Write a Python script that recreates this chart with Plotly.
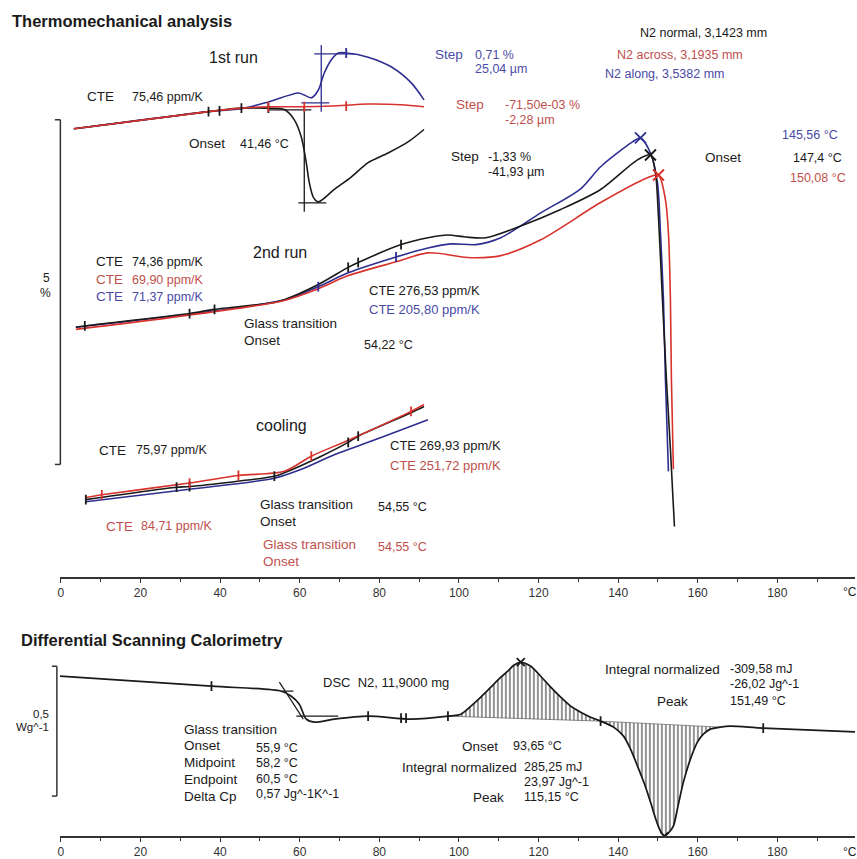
import plotly.graph_objects as go

W, H = 857, 859

# ---------------- TMA data: temperature (°C) / relative length change (%) ----------------
run1_T_normal = [3.26, 37.09, 45.36, 52.13, 56.14, 58.65, 60.40, 61.65, 62.41, 63.41, 64.66, 68.67, 72.93, 77.19, 82.21, 87.22, 91.23]
run1_L_normal = [4.87, 5.12, 5.17, 5.17, 5.15, 5.00, 4.75, 4.38, 4.09, 3.88, 3.81, 3.99, 4.17, 4.38, 4.52, 4.68, 4.86]
run1_T_across = [3.26, 37.09, 45.36, 52.13, 60.40, 67.92, 77.19, 85.46, 91.23]
run1_L_across = [4.87, 5.12, 5.17, 5.19, 5.19, 5.20, 5.23, 5.22, 5.19]
run1_T_along = [3.26, 37.09, 46.12, 52.13, 59.65, 61.15, 62.91, 64.66, 66.17, 67.92, 69.67, 71.68, 77.19, 82.96, 87.97, 91.23]
run1_L_along = [4.87, 5.12, 5.17, 5.26, 5.39, 5.36, 5.32, 5.43, 5.68, 5.87, 5.97, 5.97, 5.91, 5.77, 5.54, 5.29]

run2_T_normal = [3.76, 6.02, 32.33, 38.60, 53.63, 56.14, 64.66, 72.18, 74.69, 85.46, 92.23, 97.24, 101.75, 106.77, 115.54, 125.56, 135.59, 144.86, 148.12, 149.37, 150.13, 151.13, 152.13, 153.13, 154.14]
run2_L_normal = [1.99, 2.01, 2.19, 2.25, 2.35, 2.39, 2.61, 2.86, 2.93, 3.19, 3.29, 3.33, 3.30, 3.29, 3.46, 3.70, 3.99, 4.42, 4.49, 4.23, 3.59, 2.39, 1.23, 0.22, -0.90]
run2_T_across = [3.76, 56.14, 64.66, 72.18, 84.21, 92.23, 103.01, 110.53, 120.55, 135.59, 147.37, 150.13, 151.88, 152.63, 153.13, 153.38, 153.88]
run2_L_across = [1.96, 2.38, 2.55, 2.74, 2.94, 3.07, 3.00, 3.03, 3.26, 3.80, 4.16, 4.20, 3.84, 3.36, 2.39, 1.23, -0.07]
run2_T_along = [3.76, 56.14, 64.66, 72.18, 84.21, 92.23, 97.99, 104.26, 110.53, 120.55, 130.58, 135.59, 143.61, 145.61, 148.12, 149.87, 150.63, 151.38, 151.88, 152.63]
run2_L_along = [1.99, 2.39, 2.58, 2.78, 3.01, 3.14, 3.20, 3.19, 3.29, 3.65, 4.00, 4.32, 4.68, 4.74, 4.52, 4.09, 3.36, 2.39, 1.23, -0.10]

cool_T_normal = [6.27, 29.07, 32.33, 53.63, 56.14, 65.41, 72.18, 74.69, 87.97, 91.23]
cool_L_normal = [-0.51, -0.33, -0.32, -0.17, -0.12, 0.12, 0.32, 0.41, 0.75, 0.84]
cool_T_across = [6.27, 10.28, 32.33, 44.61, 56.14, 62.91, 72.18, 87.97, 91.23]
cool_L_across = [-0.48, -0.44, -0.27, -0.16, -0.10, 0.12, 0.35, 0.77, 0.87]
cool_T_along = [6.27, 32.33, 53.63, 60.40, 68.67, 80.45, 92.23]
cool_L_along = [-0.54, -0.36, -0.20, -0.07, 0.14, 0.39, 0.65]

# step evaluation lines (1st run)
step_along_T = [[63.66, 73.68], [65.41, 65.41], [60.40, 67.42]]
step_along_L = [[5.957, 5.957], [6.087, 5.116], [5.246, 5.246]]
step_normal_T = [[52.13, 62.91], [61.15, 61.15], [59.65, 66.67]]
step_normal_L = [[5.145, 5.145], [5.188, 3.667], [3.797, 3.797]]

# evaluation limit marks
marks_normal_T = [37.09, 39.85, 45.36, 52.13, 6.02, 32.33, 38.60, 72.18, 74.69, 85.46, 6.27, 29.07, 32.33, 53.63, 72.18, 74.69]
marks_normal_L = [5.12, 5.13, 5.17, 5.17, 2.01, 2.19, 2.25, 2.86, 2.93, 3.19, -0.51, -0.33, -0.32, -0.17, 0.32, 0.41]
marks_across_T = [52.13, 61.15, 71.68, 10.28, 32.33, 44.61, 62.91, 87.97]
marks_across_L = [5.19, 5.19, 5.20, -0.44, -0.27, -0.16, 0.12, 0.77]
marks_along_T = [71.68, 64.66, 84.21]
marks_along_L = [5.97, 2.58, 3.01]

# onset crosses (2nd run)
onset_T = [145.61, 148.12, 150.13]
onset_L = [4.74, 4.49, 4.20]

# scale bar: 5 %
tma_scale = [0, 5]

# ---------------- DSC data: temperature (°C) / heat flow (W/g) ----------------
dsc_T = [-0.25, 37.84, 55.39, 57.89, 59.90, 61.65, 63.66, 68.67, 77.19, 87.97, 97.24, 100.50, 103.01, 105.51, 108.02,
         110.53, 112.28, 113.78, 115.54, 118.05, 120.55, 123.06, 125.56, 128.07, 130.58, 133.08, 135.59, 138.85, 141.35,
         143.11, 144.86, 146.62, 148.12, 149.62, 150.63, 151.63, 152.63, 153.88, 155.14, 156.39, 158.15, 159.90, 161.40,
         163.16, 165.66, 168.17, 176.44, 199.5]
dsc_HF = [0.4615, 0.4231, 0.4038, 0.3846, 0.3538, 0.2962, 0.2846, 0.2962, 0.3077, 0.2962, 0.3077, 0.3154, 0.3462, 0.3808, 0.4192,
          0.4577, 0.4808, 0.5038, 0.5154, 0.5000, 0.4615, 0.4192, 0.3808, 0.3462, 0.3231, 0.3038, 0.2885, 0.2654, 0.2308,
          0.1808, 0.1154, 0.0462, -0.0231, -0.0962, -0.1350, -0.1538, -0.1423, -0.1154, -0.0308, 0.0538, 0.1423, 0.2077, 0.2385,
          0.2577, 0.2654, 0.2692, 0.2615, 0.2475]
exo_base_T = [97.24, 135.59]
exo_base_HF = [0.3077, 0.2885]
endo_base_T = [135.59, 165.66]
endo_base_HF = [0.2885, 0.2654]
dsc_tg_lines_T = [[54.89, 60.90], [55.39, 58.40], [59.15, 69.67]]
dsc_tg_lines_HF = [[0.4385, 0.2962], [0.4038, 0.4038], [0.3077, 0.3077]]
dsc_marks_T = [37.84, 77.19, 85.46, 86.72, 97.24, 135.59, 176.44]
dsc_marks_HF = [0.4231, 0.3077, 0.300, 0.300, 0.3077, 0.2885, 0.2615]
dsc_peaks_T = [115.54, 151.63]
dsc_peaks_HF = [0.5154, -0.1538]
dsc_scale = [0, 0.5]

ticks = [0, 20, 40, 60, 80, 100, 120, 140, 160, 180]

# ---------------- styles ----------------
K = "#1a1a1a"
RC = "#d8322c"
BC = "#2e2e90"
RT = "#c0504d"
BT = "#4a4aa6"
FONT = "Arial, Liberation Sans, sans-serif"

fig = go.Figure()


def curve(x, y, color, width=1.6, xa="x", ya="y", shape="spline"):
    fig.add_trace(go.Scatter(x=x, y=y, mode="lines", xaxis=xa, yaxis=ya,
                             line=dict(color=color, width=width, shape=shape, smoothing=0.8),
                             hoverinfo="skip", showlegend=False))


def marks(x, y, color, symbol="line-ns", size=7, xa="x", ya="y"):
    fig.add_trace(go.Scatter(x=x, y=y, mode="markers", xaxis=xa, yaxis=ya,
                             marker=dict(symbol=symbol, size=size, color=color,
                                         line=dict(color=color, width=1.8)),
                             hoverinfo="skip", showlegend=False))


# TMA curves
for T, L, c in [(run1_T_along, run1_L_along, BC), (run1_T_normal, run1_L_normal, K), (run1_T_across, run1_L_across, RC),
                (run2_T_along, run2_L_along, BC), (run2_T_normal, run2_L_normal, K), (run2_T_across, run2_L_across, RC),
                (cool_T_along, cool_L_along, BC), (cool_T_normal, cool_L_normal, K), (cool_T_across, cool_L_across, RC)]:
    curve(T, L, c)

for T, L in zip(step_along_T, step_along_L):
    curve(T, L, BC, width=1.3, shape="linear")
for T, L in zip(step_normal_T, step_normal_L):
    curve(T, L, K, width=1.3, shape="linear")

marks(marks_normal_T, marks_normal_L, K)
marks(marks_across_T, marks_across_L, RC)
marks(marks_along_T, marks_along_L, BC)
for T, L, c in zip(onset_T, onset_L, [BC, K, RC]):
    marks([T], [L], c, symbol="x-thin", size=11)

# DSC hatched integrals
exo_T = [t for t in dsc_T if exo_base_T[0] <= t <= exo_base_T[1]]
exo_H = [h for t, h in zip(dsc_T, dsc_HF) if exo_base_T[0] <= t <= exo_base_T[1]]
endo_T = [t for t in dsc_T if endo_base_T[0] <= t <= endo_base_T[1]]
endo_H = [h for t, h in zip(dsc_T, dsc_HF) if endo_base_T[0] <= t <= endo_base_T[1]]
for xs, ys, bx, by in [(exo_T, exo_H, exo_base_T, exo_base_HF), (endo_T, endo_H, endo_base_T, endo_base_HF)]:
    fig.add_trace(go.Scatter(x=xs + bx[::-1], y=ys + by[::-1], mode="lines", fill="toself",
                             xaxis="x2", yaxis="y2", line=dict(width=0.6, color="#444"),
                             fillcolor="rgba(0,0,0,0)",
                             fillpattern=dict(shape="|", fgcolor="#111", bgcolor="white", size=4, solidity=0.45),
                             hoverinfo="skip", showlegend=False))

curve(dsc_T, dsc_HF, K, width=1.7, xa="x2", ya="y2")
for T, Hf in zip(dsc_tg_lines_T, dsc_tg_lines_HF):
    curve(T, Hf, K, width=1.2, xa="x2", ya="y2", shape="linear")
marks(dsc_marks_T, dsc_marks_HF, K, xa="x2", ya="y2")
marks(dsc_peaks_T, dsc_peaks_HF, K, symbol="x-thin", size=8, xa="x2", ya="y2")

# ---------------- annotations (text, x px, y px, color, size, anchor) ----------------
labels = [
    ("<b>Thermomechanical analysis</b>", 8, 21, K, 16.5, "left"),
    ("1st run", 205, 58, K, 16, "left"),
    ("CTE", 83, 97, K, 13.5, "left"), ("75,46 ppm/K", 128, 97, K, 12.5, "left"),
    ("Onset", 185, 144, K, 13.5, "left"), ("41,46 °C", 237, 144, K, 12.5, "left"),
    ("Step", 432, 55, BT, 13.5, "left"), ("0,71 %", 472, 55, BT, 12.5, "left"), ("25,04 µm", 472, 69, BT, 12.5, "left"),
    ("Step", 453, 105, RT, 13.5, "left"), ("-71,50e-03 %", 502, 105, RT, 12.5, "left"), ("-2,28 µm", 502, 120, RT, 12.5, "left"),
    ("Step", 448, 157, K, 13.5, "left"), ("-1,33 %", 485, 157, K, 12.5, "left"), ("-41,93 µm", 485, 172, K, 12.5, "left"),
    ("N2 normal, 3,1423 mm", 637, 33, K, 12.5, "left"),
    ("N2 across, 3,1935 mm", 614, 55, RT, 12.5, "left"),
    ("N2 along, 3,5382 mm", 602, 74, BT, 12.5, "left"),
    ("145,56 °C", 780, 135, BT, 12.5, "left"),
    ("Onset", 703, 158, K, 13.5, "left"), ("147,4 °C", 791, 158, K, 12.5, "left"),
    ("150,08 °C", 788, 178, RT, 12.5, "left"),
    ("2nd run", 250, 253, K, 16, "left"),
    ("CTE", 92, 262, K, 13.5, "left"), ("74,36 ppm/K", 128, 262, K, 12.5, "left"),
    ("CTE", 92, 280, RT, 13.5, "left"), ("69,90 ppm/K", 128, 280, RT, 12.5, "left"),
    ("CTE", 92, 297, BT, 13.5, "left"), ("71,37 ppm/K", 128, 297, BT, 12.5, "left"),
    ("Glass transition", 241, 324, K, 13.5, "left"), ("Onset", 241, 341, K, 13.5, "left"), ("54,22 °C", 361, 345, K, 12.5, "left"),
    ("CTE 276,53 ppm/K", 366, 291, K, 13, "left"),
    ("CTE 205,80 ppm/K", 366, 310, BT, 13, "left"),
    ("cooling", 253, 426, K, 16, "left"),
    ("CTE", 95, 451, K, 13.5, "left"), ("75,97 ppm/K", 132, 451, K, 12.5, "left"),
    ("CTE 269,93 ppm/K", 387, 446, K, 13, "left"),
    ("CTE 251,72 ppm/K", 387, 466, RT, 13, "left"),
    ("CTE", 102, 527, RT, 13.5, "left"), ("84,71 ppm/K", 137, 527, RT, 12.5, "left"),
    ("Glass transition", 257, 505, K, 13.5, "left"), ("Onset", 257, 522, K, 13.5, "left"), ("54,55 °C", 375, 508, K, 12.5, "left"),
    ("Glass transition", 260, 545, RT, 13.5, "left"), ("Onset", 260, 562, RT, 13.5, "left"), ("54,55 °C", 375, 548, RT, 12.5, "left"),
    ("5", 45, 278, K, 12, "center"), ("%", 44, 293, K, 12, "center"),
    ("°C", 850, 593, K, 12, "center"),
    ("<b>Differential Scanning Calorimetry</b>", 17, 641, K, 16.5, "left"),
    ("DSC  N2, 11,9000 mg", 320, 683, K, 13, "left"),
    ("0,5", 49, 715, K, 11.5, "right"), ("Wg^-1", 49, 728, K, 11.5, "right"),
    ("Glass transition", 180, 730, K, 13.5, "left"),
    ("Onset", 180, 746, K, 13.5, "left"), ("55,9 °C", 253, 749, K, 12.5, "left"),
    ("Midpoint", 180, 763, K, 13.5, "left"), ("58,2 °C", 253, 764, K, 12.5, "left"),
    ("Endpoint", 180, 780, K, 13.5, "left"), ("60,5 °C", 253, 780, K, 12.5, "left"),
    ("Delta Cp", 180, 797, K, 13.5, "left"), ("0,57 Jg^-1K^-1", 253, 795, K, 12.5, "left"),
    ("Onset", 459, 747, K, 13.5, "left"), ("93,65 °C", 510, 747, K, 12.5, "left"),
    ("Integral normalized", 518, 768, K, 13.5, "right"), ("285,25 mJ", 521, 768, K, 12.5, "left"),
    ("23,97 Jg^-1", 521, 783, K, 12.5, "left"),
    ("Peak", 470, 798, K, 13.5, "left"), ("115,15 °C", 521, 798, K, 12.5, "left"),
    ("Integral normalized", 602, 670, K, 13.5, "left"), ("-309,58 mJ", 728, 670, K, 12.5, "left"),
    ("-26,02 Jg^-1", 728, 685, K, 12.5, "left"),
    ("Peak", 655, 702, K, 13.5, "left"), ("151,49 °C", 728, 702, K, 12.5, "left"),
    ("°C", 850, 853, K, 12, "center"),
]
annotations = [dict(text=t, x=x / W, y=1 - y / H, xref="paper", yref="paper", xanchor=a, yanchor="middle",
                    showarrow=False, font=dict(family=FONT, size=s, color=c)) for t, x, y, c, s, a in labels]

# scale bars
shapes = []
for yref, vals, xp, xl in [("y", tma_scale, 58.5, 53), ("y2", dsc_scale, 55, 50)]:
    shapes.append(dict(type="line", xref="paper", yref=yref, x0=xp / W, x1=xp / W, y0=vals[0], y1=vals[1],
                       line=dict(color="#333", width=1.5)))
    for v in vals:
        shapes.append(dict(type="line", xref="paper", yref=yref, x0=xl / W, x1=xp / W, y0=v, y1=v,
                           line=dict(color="#333", width=1.5)))

xcommon = dict(range=[-0.25, 199.5], domain=[58 / W, 855 / W], showgrid=False, zeroline=False,
               showline=True, linecolor="#333", linewidth=1.5, ticks="outside", ticklen=4, tickwidth=1.3,
               tickcolor="#333", tickvals=ticks, ticktext=[str(t) for t in ticks],
               tickfont=dict(family=FONT, size=12, color="#333"),
               minor=dict(dtick=10, tick0=0, ticks="outside", ticklen=3, tickcolor="#333", tickwidth=1.2),
               fixedrange=True)

fig.update_layout(
    width=W, height=H, margin=dict(l=0, r=0, t=0, b=0),
    paper_bgcolor="white", plot_bgcolor="white", showlegend=False,
    xaxis=dict(anchor="y", **xcommon),
    yaxis=dict(domain=[1 - 578 / H, 1 - 30 / H], range=[(465 - 578) / 69, (465 - 30) / 69], visible=False, fixedrange=True),
    xaxis2=dict(anchor="y2", **xcommon),
    yaxis2=dict(domain=[1 - 837 / H, 1 - 655 / H], range=[(797 - 837) / 260, (797 - 655) / 260], visible=False, fixedrange=True),
    annotations=annotations, shapes=shapes,
)

fig.write_html("out.html")
